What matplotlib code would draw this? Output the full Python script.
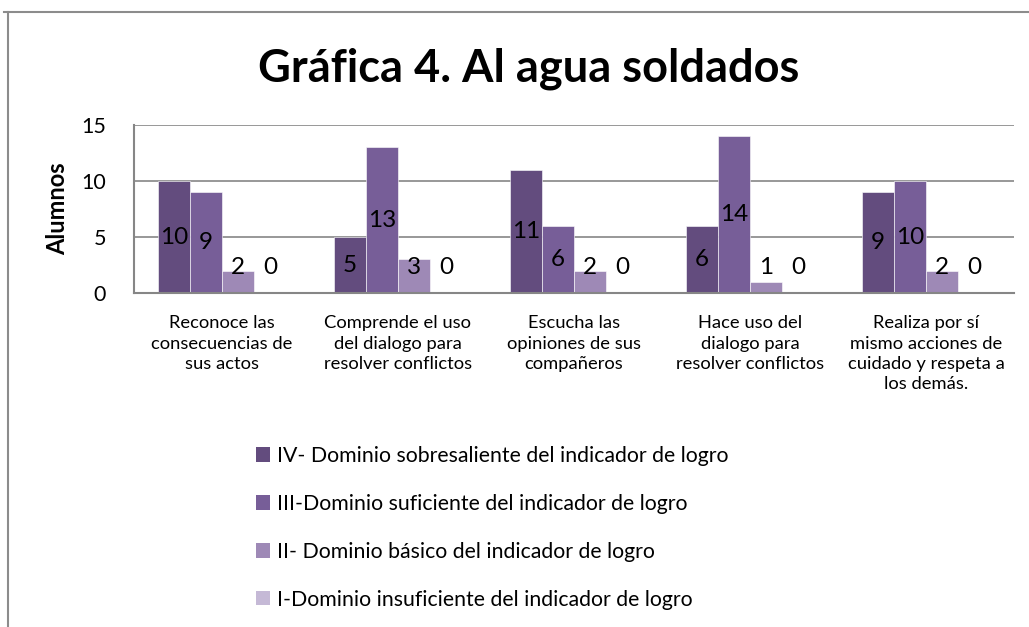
import matplotlib
matplotlib.use("Agg")
import matplotlib.pyplot as plt
from matplotlib.lines import Line2D
from matplotlib.patches import Patch
import numpy as np

plt.rcParams['font.family'] = ['Lato', 'DejaVu Sans']

categories = [
    "Reconoce las\nconsecuencias de\nsus actos",
    "Comprende el uso\ndel dialogo para\nresolver conflictos",
    "Escucha las\nopiniones de sus\ncompañeros",
    "Hace uso del\ndialogo para\nresolver conflictos",
    "Realiza por sí\nmismo acciones de\ncuidado y respeta a\nlos demás.",
]
series_names = [
    "IV- Dominio sobresaliente del indicador de logro",
    "III-Dominio suficiente del indicador de logro",
    "II- Dominio básico del indicador de logro",
    "I-Dominio insuficiente del indicador de logro",
]
nivel_iv = [10, 5, 11, 6, 9]
nivel_iii = [9, 13, 6, 14, 10]
nivel_ii = [2, 3, 2, 1, 2]
nivel_i = [0, 0, 0, 0, 0]
series_values = [nivel_iv, nivel_iii, nivel_ii, nivel_i]
colors = ["#634C7E", "#775E98", "#9E89B6", "#C5B9D6"]
yticks = [0, 5, 10, 15]

W, H = 1029, 627
fig = plt.figure(figsize=(W / 100, H / 100), dpi=100)
ax = fig.add_axes([134 / W, 1 - 293 / H, (1014 - 134) / W, (293 - 125) / H])

x = np.arange(len(categories))
bw = 32 / 176
for i, (vals, col) in enumerate(zip(series_values, colors)):
    pos = x + (i - 1.5) * bw
    ax.bar(pos, vals, width=bw, color=col, edgecolor='white', linewidth=0.4, zorder=3)
    for p, v in zip(pos, vals):
        ax.text(p, max(v / 2, 2.3), str(v), ha='center', va='center',
                fontsize=17.5, color='black', zorder=4)

ax.set_xlim(-0.5, len(categories) - 0.5)
ax.set_ylim(0, 15)
ax.set_yticks(yticks)
ax.set_yticklabels([str(t) for t in yticks], fontsize=15.5)
ax.set_xticks(x)
ax.set_xticklabels(categories, fontsize=13.2, linespacing=1.33, va='top')
ax.tick_params(axis='y', length=0, pad=20)
ax.tick_params(axis='x', length=0, pad=16)
ax.grid(axis='y', color='#868686', linewidth=1.2, zorder=0)
for s in ['top', 'right']:
    ax.spines[s].set_visible(False)
for s in ['left', 'bottom']:
    ax.spines[s].set_color('#868686')
    ax.spines[s].set_linewidth(1.5)
    ax.spines[s].set_zorder(5)

ax.set_ylabel("Alumnos", fontsize=17, fontweight='bold', labelpad=9)

fig.text(529 / W, 1 - 69 / H, "Gráfica 4. Al agua soldados", ha='center', va='center',
         fontsize=32.5, fontweight='bold')

handles = [Patch(facecolor=c, edgecolor='none') for c in colors]
fig.legend(handles, series_names, loc='upper left', bbox_to_anchor=(256 / W, 1 - 446 / H),
           frameon=False, fontsize=15.3, handlelength=0.68, handleheight=0.68,
           handletextpad=0.3, labelspacing=1.31, borderpad=0, borderaxespad=0)

fig.add_artist(Line2D([4 / W, 1], [1 - 12 / H, 1 - 12 / H], color='#8c8c8c', linewidth=1.5,
                      transform=fig.transFigure))
fig.add_artist(Line2D([8 / W, 8 / W], [0, 1 - 12 / H], color='#8c8c8c', linewidth=1.5,
                      transform=fig.transFigure))

fig.savefig("out.png", dpi=100, facecolor='white')
